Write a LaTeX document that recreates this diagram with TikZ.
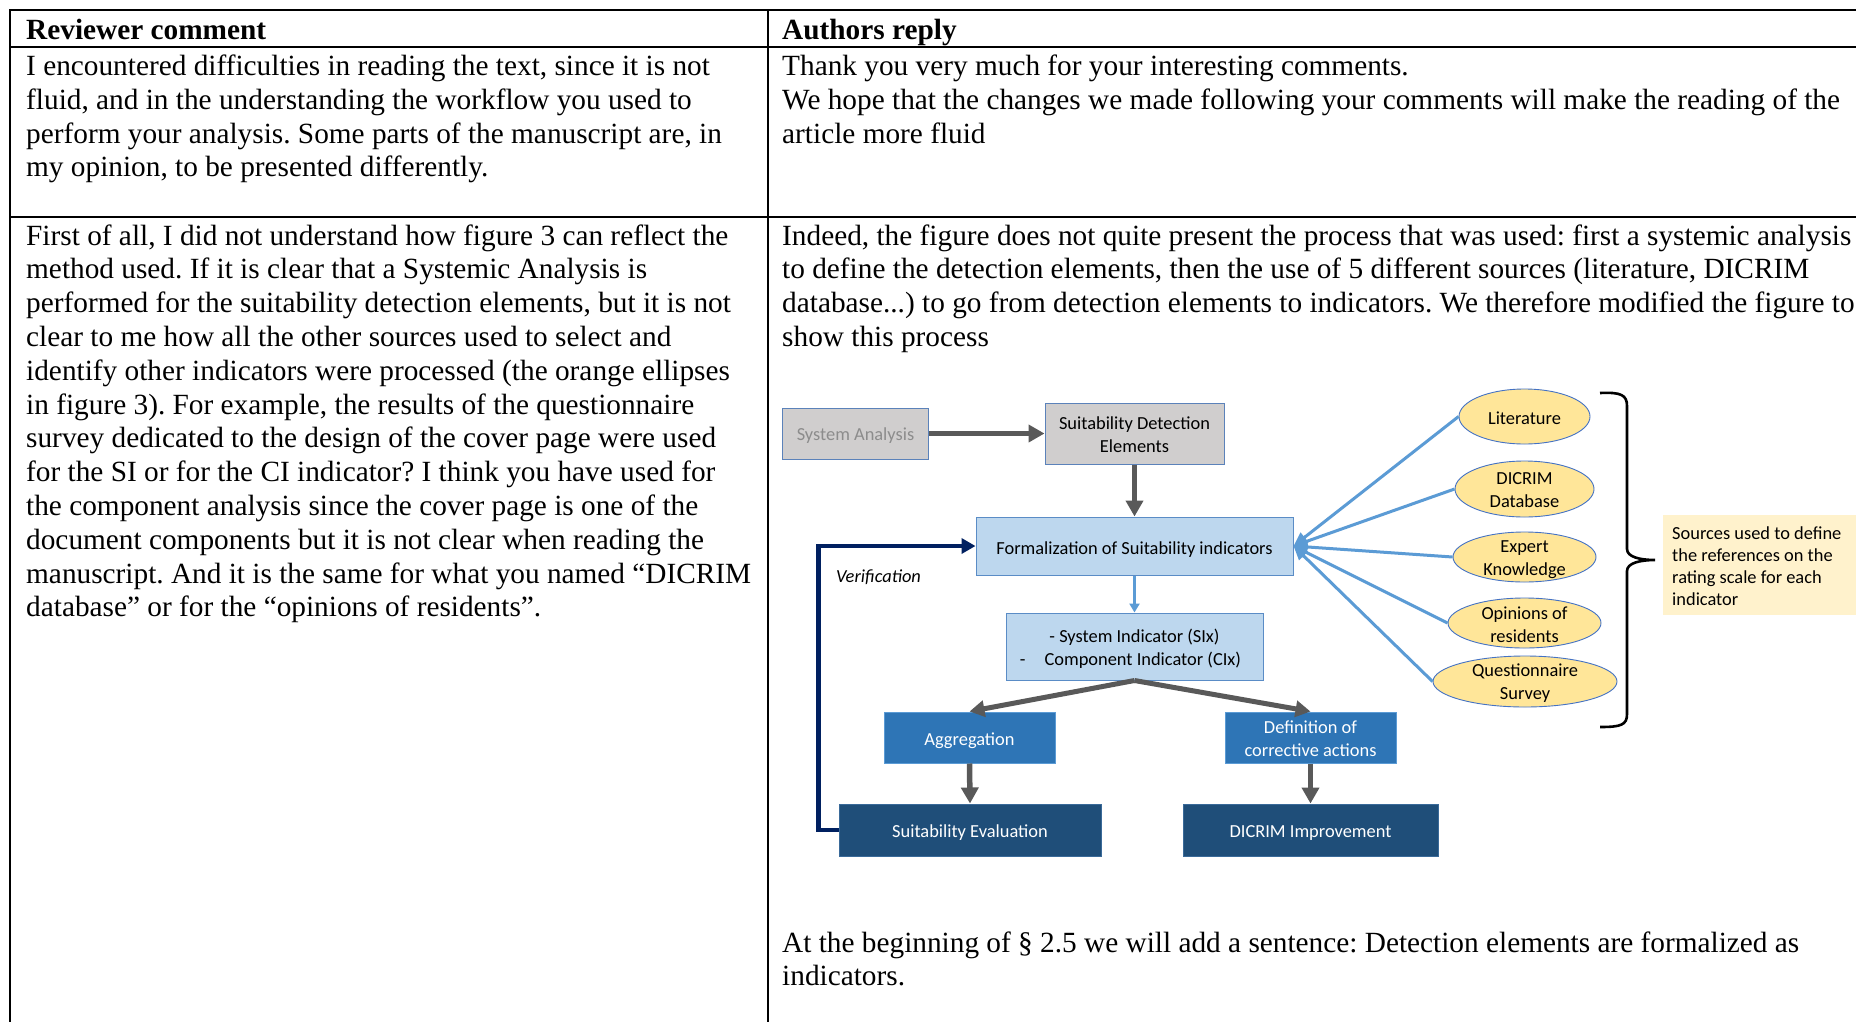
\documentclass[tikz,border=0pt]{standalone}
\usepackage{fontspec}
\setmainfont{Liberation Serif}
\newfontfamily\calfont{Carlito}
\usetikzlibrary{arrows.meta,shapes.geometric}
\definecolor{gfill}{HTML}{D0CECE}
\definecolor{gborder}{HTML}{5B82BA}
\definecolor{satext}{HTML}{8C8C8C}
\definecolor{lbfill}{HTML}{BDD7EE}
\definecolor{lbborder}{HTML}{5A8CC6}
\definecolor{mbfill}{HTML}{2E75B6}
\definecolor{mbborder}{HTML}{5B9BD5}
\definecolor{dbfill}{HTML}{1F4E79}
\definecolor{dbborder}{HTML}{3A6A99}
\definecolor{efill}{HTML}{FFE699}
\definecolor{eborder}{HTML}{4472C4}
\definecolor{srcfill}{HTML}{FFF2CC}
\definecolor{agrey}{HTML}{595959}
\definecolor{navy}{HTML}{002060}
\definecolor{lblue}{HTML}{5B9BD5}
\newcommand\tbfont{\fontsize{29.3}{33.8}\selectfont}
\newcommand\dgfont{\calfont\fontsize{18.4}{23}\selectfont}
\frenchspacing
\begin{document}
\frenchspacing
\begin{tikzpicture}[x=1pt,y=-1pt,
  tbl/.style={line width=2pt,black},
  txt/.style={anchor=base west,inner sep=0pt,font=\tbfont},
  box/.style={draw,line width=1pt,inner sep=0pt},
  btxt/.style={inner sep=0pt,align=center,font=\dgfont},
  ell/.style={ellipse,draw=eborder,fill=efill,line width=0.9pt,inner sep=0pt},
  garrow/.style={draw=agrey,line width=5.5pt,-{Triangle[length=16pt,width=17pt]}},
  gline/.style={draw=agrey,line width=5pt,-{Triangle[length=15pt,width=16pt]}},
  verif/.style={draw=navy,line width=4.7pt,-{Triangle[length=14pt,width=15pt]}},
  srcarrow/.style={draw=lblue,line width=3pt,-{Triangle[length=14pt,width=12pt]}},
  thinarrow/.style={draw=lblue,line width=2.5pt,-{Triangle[length=9pt,width=10pt]}}
]
\useasboundingbox (0,0) rectangle (1856,1021);
\fill[white] (0,0) rectangle (1856,1021);
\clip (0,0) rectangle (1856,1021);

% ---------- table grid ----------
\draw[tbl] (9.5,1030) -- (9.5,9.5) -- (1870,9.5);
\draw[tbl] (9.5,47) -- (1870,47);
\draw[tbl] (9.5,217) -- (1870,217);
\draw[tbl] (768,9.5) -- (768,1030);

% ---------- table text ----------
\node[txt] (hl) at (26,39.5) {\textbf{Reviewer comment}};
\node[txt] (hr) at (782,39.5) {\textbf{Authors reply}};

\node[txt] (l1) at (26,75.5) {\parbox[t]{1200pt}{I encountered difficulties in reading the text, since it is not\\
fluid, and in the understanding the workflow you used to\\
perform your analysis. Some parts of the manuscript are, in\\
my opinion, to be presented differently.}};

\node[txt] (r1) at (782,75.5) {\parbox[t]{1200pt}{Thank you very much for your interesting comments.\\
We hope that the changes we made following your comments will make the reading of the\\
article more fluid}};

\node[txt] (l2) at (26,245) {\parbox[t]{1200pt}{First of all, I did not understand how figure 3 can reflect the\\
method used. If it is clear that a Systemic Analysis is\\
performed for the suitability detection elements, but it is not\\
clear to me how all the other sources used to select and\\
identify other indicators were processed (the orange ellipses\\
in figure 3). For example, the results of the questionnaire\\
survey dedicated to the design of the cover page were used\\
for the SI or for the CI indicator? I think you have used for\\
the component analysis since the cover page is one of the\\
document components but it is not clear when reading the\\
manuscript. And it is the same for what you named “DICRIM\\
database” or for the “opinions of residents”.}};

\node[txt] (r2) at (782,245) {\parbox[t]{1300pt}{Indeed, the figure does not quite present the process that was used: first a systemic analysis\\
to define the detection elements, then the use of 5 different sources (literature, DICRIM\\
database...) to go from detection elements to indicators. We therefore modified the figure to\\
show this process}};

\node[txt] (r3) at (782,952) {\parbox[t]{1200pt}{At the beginning of § 2.5 we will add a sentence: Detection elements are formalized as\\
indicators.}};

% ---------- diagram boxes ----------
\node[box,fill=gfill,draw=gborder,minimum width=145.5pt,minimum height=51pt] (sa) at (855.5,433.5) {};
\node[btxt,text=satext] (sa-t) at ([yshift=-2.5pt]sa.center) {System Analysis};
\node[box,fill=gfill,draw=gborder,minimum width=179pt,minimum height=61pt] (sde) at (1134.5,433.5) {};
\node[btxt] (sde-t) at ([yshift=-1.5pt]sde.center) {Suitability Detection\\Elements};
\node[box,fill=lbfill,draw=lbborder,minimum width=317pt,minimum height=58pt] (form) at (1134.5,546) {};
\node[btxt] (form-t) at ([yshift=-3.5pt]form.center) {Formalization of Suitability indicators};
\node[box,fill=lbfill,draw=lbborder,minimum width=257pt,minimum height=67pt] (six) at (1134.5,646.5) {};
\node[btxt] (six-t) at ([yshift=-2pt]six.center) {- System Indicator (SIx)\\-\hspace{19pt}Component Indicator (CIx)\makebox[8pt]{}};
\node[box,fill=mbfill,draw=mbborder,minimum width=171pt,minimum height=51pt] (agg) at (969.5,737.5) {};
\node[btxt,text=white] (agg-t) at ([yshift=-3pt]agg.center) {Aggregation};
\node[box,fill=mbfill,draw=mbborder,minimum width=171pt,minimum height=51pt] (def) at (1310.5,737.5) {};
\node[btxt,text=white] (def-t) at ([yshift=-1.5pt]def.center) {Definition of\\corrective actions};
\node[box,fill=dbfill,draw=dbborder,minimum width=262pt,minimum height=52pt] (se) at (970,830) {};
\node[btxt,text=white] (se-t) at ([yshift=-3pt]se.center) {Suitability Evaluation};
\node[box,fill=dbfill,draw=dbborder,minimum width=255pt,minimum height=52pt] (di) at (1310.5,830) {};
\node[btxt,text=white] (di-t) at ([yshift=-3pt]di.center) {DICRIM Improvement};

\node[anchor=base west,inner sep=0pt,font=\dgfont\itshape] (ver) at (836,582) {Verification};

% ellipses
\node[ell,minimum width=131pt,minimum height=55pt] (lit) at (1524.5,416.5) {};
\node[btxt] (lit-t) at ([yshift=-1.5pt]lit.center) {Literature};
\node[ell,minimum width=139pt,minimum height=56pt] (dic) at (1524.5,489) {};
\node[btxt] (dic-t) at ([yshift=-1.5pt]dic.center) {DICRIM\\Database};
\node[ell,minimum width=143pt,minimum height=50pt] (exp) at (1524.5,557) {};
\node[btxt] (exp-t) at ([yshift=-2.5pt]exp.center) {Expert\\Knowledge};
\node[ell,minimum width=153pt,minimum height=50pt] (opi) at (1524.5,623) {};
\node[btxt] (opi-t) at ([yshift=-1.5pt]opi.center) {Opinions of\\residents};
\node[ell,minimum width=184pt,minimum height=51pt] (que) at (1525,681.5) {};
\node[btxt] (que-t) at ([yshift=-1.5pt]que.center) {Questionnaire\\Survey};

% sources box
\node[fill=srcfill,anchor=north west,minimum width=220pt,minimum height=100pt,inner sep=0pt] (srcbox) at (1663,515) {};
\node[anchor=base west,inner sep=0pt,font=\calfont\fontsize{18.4}{22}\selectfont] (srct) at (1672,539) {\parbox[t]{200pt}{Sources used to define\\the references on the\\rating scale for each\\indicator}};

% brace
\draw[black,line width=2.6pt] (1600,393) .. controls (1621,392) and (1627,395) .. (1627,406)
  -- (1627,549) .. controls (1627,557) and (1640,560) .. (1655,560)
  .. controls (1640,560) and (1627,563) .. (1627,571)
  -- (1627,714) .. controls (1627,725) and (1621,727) .. (1600,727);

% ---------- connectors ----------
\draw[garrow] (sa.east) -- (sde.west);
\draw[garrow] (sde.south) -- (form.north);
\draw[thinarrow] (form.south) -- (six.north);
\draw[gline] (six.south) -- (agg.north);
\draw[gline] (six.south) -- (def.north);
\draw[garrow] (agg.south) -- (se.north);
\draw[garrow] (def.south) -- (di.north);
\draw[verif] (se.west) -- ++(-20,0) |- (form.west);

\draw[srcarrow] (lit.west) -- (form.east);
\draw[srcarrow] (dic.west) -- (form.east);
\draw[srcarrow] (exp.west) -- (form.east);
\draw[srcarrow] (opi.west) -- (form.east);
\draw[srcarrow] (que.west) -- (form.east);
\end{tikzpicture}
\end{document}
